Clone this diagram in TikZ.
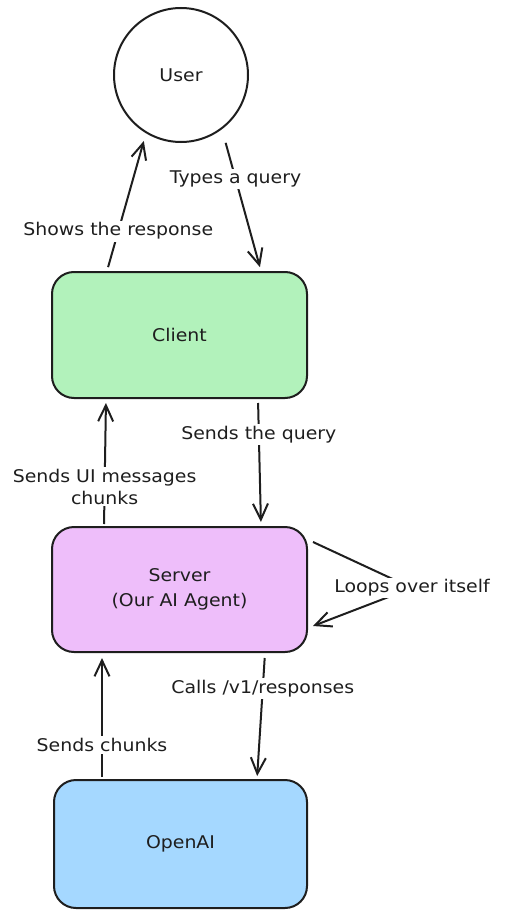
\documentclass[tikz,border=0pt]{standalone}
\usepackage{fontspec}
\setmainfont[FakeStretch=1.08]{DejaVu Sans}
\usetikzlibrary{arrows.meta,calc}
\definecolor{ink}{HTML}{1E1E1E}
\definecolor{cgreen}{HTML}{B2F2BB}
\definecolor{cpurple}{HTML}{EEBEFA}
\definecolor{cblue}{HTML}{A5D8FF}
\tikzset{
  circnode/.style={circle, draw=ink, line width=2pt, fill=white, minimum size=134pt, inner sep=0pt, text=ink},
  boxnode/.style={rectangle, rounded corners=22pt, draw=ink, line width=2pt, minimum width=255pt, minimum height=126pt, align=center, text=ink},
  arr/.style={draw=ink, line width=2pt, -{Straight Barb[length=16pt,width=15pt,line width=2pt]}},
  lbl/.style={fill=white, inner sep=2pt, text=ink, align=center, font=\fontsize{17.5}{22}\selectfont},
}
\begin{document}
\begin{tikzpicture}[x=1pt,y=-1pt, font=\fontsize{17.5}{25}\selectfont]
\useasboundingbox (0,0) rectangle (508,915);
\node[circnode] (user) at (181,75) {User};
\node[boxnode, fill=cgreen] (client) at (179.5,335) {Client};
\node[boxnode, fill=cpurple, minimum height=125pt] (server) at (179.5,589.5) {Server\\(Our AI Agent)};
\node[boxnode, fill=cblue, minimum width=253pt, minimum height=128pt] (openai) at (180.5,844) {OpenAI};
\coordinate (loopc) at (412,588);

% Client -> User
\draw[arr, shorten <=4pt, shorten >=8pt] ([xshift=56pt]client.north west) -- node[lbl, pos=0.29]{Shows the response} (user.239);
% User -> Client
\draw[arr, shorten <=14pt, shorten >=4pt] (user.307) -- node[lbl, pos=0.35]{Types a query} ([xshift=210pt]client.north west);
% Client -> Server
\draw[arr, shorten <=4pt, shorten >=4pt] ([xshift=207pt]client.south west) -- node[lbl, pos=0.28]{Sends the query} ([xshift=210pt]server.north west);
% Server -> Client
\draw[arr, shorten <=2pt, shorten >=4pt] ([xshift=53pt]server.north west) -- node[lbl, pos=0.31]{Sends UI messages\\chunks} ([xshift=55pt]client.south west);
% Server -> OpenAI
\draw[arr, shorten <=5pt, shorten >=3pt] ([xshift=214pt]server.south west) -- node[lbl, pos=0.28]{Calls /v1/responses} ([xshift=204pt]openai.north west);
% OpenAI -> Server
\draw[arr, shorten <=2pt, shorten >=5pt] ([xshift=49pt]openai.north west) -- node[lbl, pos=0.27]{Sends chunks} ([xshift=51pt]server.south west);
% Server loop
\draw[arr] ([shift={(5pt,-16pt)}]server.north east) -- (loopc) node[lbl]{Loops over itself} -- ([shift={(5pt,27pt)}]server.south east);
\end{tikzpicture}
\end{document}
